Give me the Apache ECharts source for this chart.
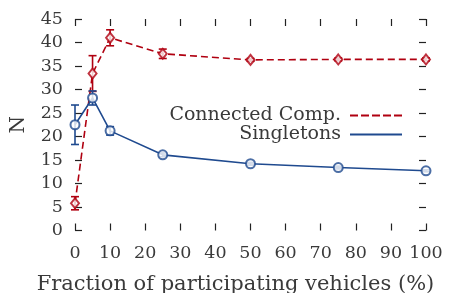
<!DOCTYPE html>
<html><head><meta charset="utf-8">
<script src="https://cdn.jsdelivr.net/npm/echarts@6/dist/echarts.min.js"></script>
<style>html,body{margin:0;padding:0;background:#fff}#c{width:449px;height:293px}</style>
</head><body><div id="c"></div>
<script>
const xValues = [0, 5, 10, 25, 50, 75, 100];
const connected = [5.8, 33.4, 41.0, 37.6, 36.3, 36.4, 36.4];
const connectedErr = [1.4, 3.8, 1.7, 1.0, 0.3, 0.3, 0.3];
const singletons = [22.5, 28.2, 21.2, 16.1, 14.2, 13.4, 12.7];
const singletonsErr = [4.2, 1.5, 0.9, 0.4, 0.3, 0.3, 0.2];
const xTicks = [0,10,20,30,40,50,60,70,80,90,100];
const yTicks = [0,5,10,15,20,25,30,35,40,45];

const RED = '#b00010', BLUE = '#1f4a8f', TXT = '#3a3a3a';
const FONT = 'DejaVu Serif';
const FS = 17.5;

function pts(xs, ys){ return xs.map((x,i)=>[x, ys[i]]); }
function errData(xs, ys, es){ return xs.map((x,i)=>[x, ys[i]-es[i], ys[i]+es[i]]); }
function errSeries(data, color){
  return {
    type:'custom', data: data, z: 3,
    renderItem: function(params, api){
      const lo = api.coord([api.value(0), api.value(1)]);
      const hi = api.coord([api.value(0), api.value(2)]);
      const w = 4;
      const st = {stroke: color, lineWidth: 1.6, fill: null};
      return {type:'group', children:[
        {type:'line', shape:{x1:lo[0],y1:lo[1],x2:hi[0],y2:hi[1]}, style:st},
        {type:'line', shape:{x1:lo[0]-w,y1:lo[1],x2:lo[0]+w,y2:lo[1]}, style:st},
        {type:'line', shape:{x1:hi[0]-w,y1:hi[1],x2:hi[0]+w,y2:hi[1]}, style:st}
      ]};
    }
  };
}
const tickStyle = {show:true, inside:true, length:7, lineStyle:{color:'#222', width:1.2}};
const noLine = {show:false, onZero:false};
const labelStyle = {color: TXT, fontFamily: FONT, fontSize: FS};
const dashedIcon = 'path://M0,0h8v2h-8z M11,0h8v2h-8z M22,0h8v2h-8z M33,0h8v2h-8z M44,0h8v2h-8z';
const solidIcon = 'path://M0,0h52v2h-52z';

const chart = echarts.init(document.getElementById('c'));
chart.setOption({
  animation:false,
  grid:{left:75, right:23, top:19, bottom:62.5, outerBoundsMode:'none', containLabel:false},
  legend:{
    data:[{name:'Connected Comp.', icon: dashedIcon, itemStyle:{color:RED}},
          {name:'Singletons', icon: solidIcon, itemStyle:{color:BLUE}}],
    orient:'vertical', align:'right', right:42, top:101,
    itemWidth:52, itemHeight:2, itemGap:0,
    textStyle:{color: TXT, fontFamily: FONT, fontSize: 19, padding:[0,4,0,0]}
  },
  xAxis:[{
    type:'value', min:0, max:100, interval:10, position:'bottom',
    axisLine: noLine, splitLine:{show:false},
    axisTick: tickStyle,
    axisLabel: Object.assign({margin:14, formatter: v => xTicks.includes(v) ? String(v) : ''}, labelStyle),
    name:'Fraction of participating vehicles (%)', nameLocation:'middle', nameGap:44,
    nameTextStyle:{color: TXT, fontFamily: FONT, fontSize: 21, padding:[0,30,0,0]}
  },{
    type:'value', min:0, max:100, interval:10, position:'top',
    axisLine: noLine, splitLine:{show:false},
    axisTick: tickStyle, axisLabel:{show:false}
  }],
  yAxis:[{
    type:'value', min:0, max:45, interval:5, position:'left',
    axisLine: noLine, splitLine:{show:false},
    axisTick: tickStyle,
    axisLabel: Object.assign({margin:12, formatter: v => yTicks.includes(v) ? String(v) : ''}, labelStyle),
    name:'N', nameLocation:'middle', nameGap:46, nameRotate:90,
    nameTextStyle:{color: TXT, fontFamily: FONT, fontSize: 20}
  },{
    type:'value', min:0, max:45, interval:5, position:'right',
    axisLine: noLine, splitLine:{show:false},
    axisTick: tickStyle, axisLabel:{show:false}
  }],
  series:[
    {name:'Connected Comp.', type:'line', data: pts(xValues, connected), symbol:'none',
     lineStyle:{color:RED, width:1.6, type:[7,4]}, itemStyle:{color:RED}, z:2},
    errSeries(errData(xValues, connected, connectedErr), RED),
    {type:'scatter', data: pts(xValues, connected), symbol:'emptyDiamond', symbolSize:[8,10],
     itemStyle:{color:RED, borderColor:RED, borderWidth:2.2}, z:4},
    {name:'Singletons', type:'line', data: pts(xValues, singletons), symbol:'none',
     lineStyle:{color:BLUE, width:1.6}, itemStyle:{color:BLUE}, z:2},
    errSeries(errData(xValues, singletons, singletonsErr), BLUE),
    {type:'scatter', data: pts(xValues, singletons), symbol:'emptyCircle', symbolSize:9,
     itemStyle:{color:BLUE, borderColor:BLUE, borderWidth:1.8}, z:4}
  ]
});
</script></body></html>
